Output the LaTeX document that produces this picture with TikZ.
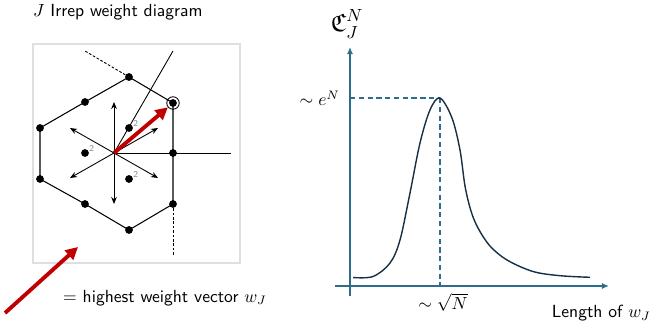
\documentclass[tikz,border=0pt]{standalone}
\usepackage{amssymb}
\usetikzlibrary{arrows.meta, positioning, calc}
\definecolor{hwred}{RGB}{192,0,0}
\definecolor{axblue}{RGB}{45,108,140}
\definecolor{curvenavy}{RGB}{22,48,68}

\begin{document}
\begin{tikzpicture}[x=0.02cm, y=-0.02cm, font=\sffamily,
    wdot/.style={circle, fill=black, inner sep=0pt, minimum size=0.155cm},
    mult/.style={font=\sffamily\tiny, text=gray, inner sep=0pt},
    hexedge/.style={line width=0.6pt},
    root/.style={-{Stealth[length=4pt, width=3.2pt]}, line width=0.5pt},
    wall/.style={line width=0.5pt},
    wallext/.style={line width=0.5pt, dash pattern=on 1.5pt off 1pt},
    hwarrow/.style={-{Triangle[length=7pt, width=7pt]}, line width=2.2pt, draw=hwred},
    axis/.style={-{Latex[length=4pt, width=3.5pt]}, line width=0.8pt, draw=axblue},
    guide/.style={line width=0.7pt, draw=axblue, dash pattern=on 3pt off 2pt},
    curve/.style={line width=0.8pt, draw=curvenavy}
]
\useasboundingbox (0,0) rectangle (657,331);

% --- Left: weight diagram ---
\node[anchor=west] (title) at (27,12) {$J$ Irrep weight diagram};
\draw[gray!25, line width=0.6pt] (33,44) rectangle (240,263);

\coordinate (O) at (114,153);

% boundary weights
\node[wdot] (wt)  at (129,77)  {};
\node[wdot] (whw) at (173,103) {};
\node[wdot] (wr)  at (173,153) {};
\node[wdot] (wlr) at (173,204) {};
\node[wdot] (wb)  at (129,230) {};
\node[wdot] (wbl) at (85,204)  {};
\node[wdot] (wl1) at (40,179)  {};
\node[wdot] (wl2) at (40,128)  {};
\node[wdot] (wul) at (85,102)  {};
\node[circle, draw, line width=0.5pt, minimum size=0.25cm, inner sep=0pt] (ring) at (whw) {};

% inner weights, multiplicity 2
\node[wdot, label={[mult]20:2}] (m1) at (129,128) {};
\node[wdot, label={[mult]20:2}] (m2) at (85,153)  {};
\node[wdot, label={[mult]20:2}] (m3) at (129,179) {};

\draw[hexedge] (wt.center) -- (whw.center) -- (wr.center) -- (wlr.center) -- (wb.center)
  -- (wbl.center) -- (wl1.center) -- (wl2.center) -- (wul.center) -- cycle;

% Weyl chamber walls
\coordinate (wallA) at (173,51);
\coordinate (wallB) at (231,153);
\coordinate (extA) at (85,51);
\coordinate (extB) at (173,255);
\draw[wall] (O) -- (wallA);
\draw[wall] (O) -- (wallB);
\draw[wallext] (wt) -- (extA);
\draw[wallext] (wlr) -- (extB);

% roots
\coordinate (rU)  at (114,102);
\coordinate (rD)  at (114,204);
\coordinate (rUL) at (70,128);
\coordinate (rDL) at (70,178);
\coordinate (rUR) at (158,128);
\coordinate (rDR) at (158,178);
\foreach \r in {rU, rD, rUL, rDL, rUR, rDR} {
    \draw[root] (O) -- (\r);
}

% highest weight
\draw[hwarrow] (O) -- (ring);

% legend
\coordinate (lgs) at (5,313);
\coordinate (lge) at (78,247);
\draw[hwarrow] (lgs) -- (lge);
\node[anchor=west] (lgtext) at (57,298) {$=$ highest weight vector $w_J$};

% --- Right: multiplicity vs length ---
\coordinate (yb) at (350,296);
\coordinate (yt) at (350,47);
\coordinate (xl) at (335,286);
\coordinate (xr) at (609,286);
\draw[axis] (yb) -- (yt);
\draw[axis] (xl) -- (xr);

\node (ylab) at (347,24) {\Large$\mathfrak{C}_J^N$};

\coordinate (pk)  at (440,98);
\coordinate (pky) at (350,98);
\coordinate (pkx) at (440,286);
\draw[guide] (pky) -- (pk);
\draw[guide] (pk) -- (pkx);

\node[anchor=east] (elab) at (346,98) {$\sim e^N$};
\node (sqlab) at (443,302) {$\sim\sqrt{N}$};
\node[anchor=east] (xlab) at (657,313) {Length of $w_J$};

\draw[curve] plot[smooth, tension=0.55] coordinates {
  (353,277.5) (373,276.5) (390,263) (400,240) (410,193) (420,143) (430,110)
  (440,98) (452,118) (460,150) (465,186) (471,211) (478,228) (490,246)
  (507,260) (533,271.5) (560,275.7) (590,277.3)};

\end{tikzpicture}
\end{document}
